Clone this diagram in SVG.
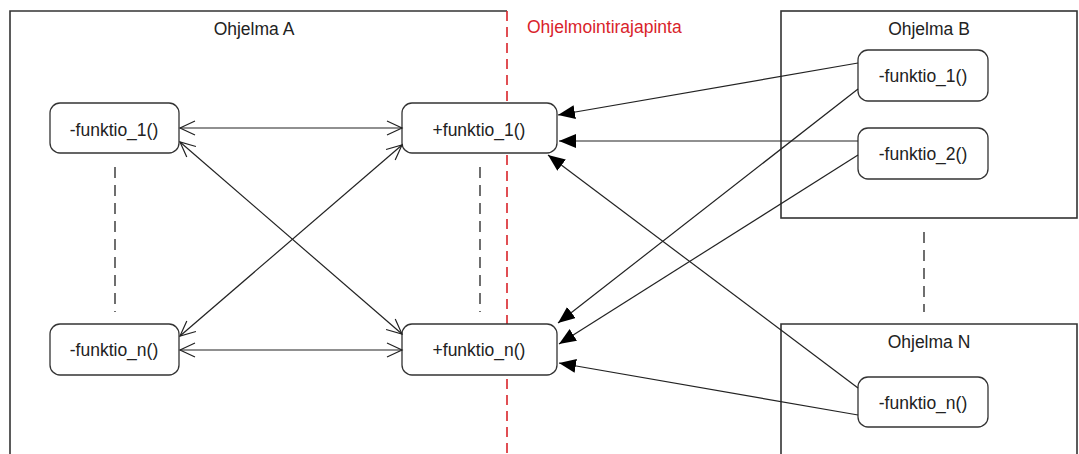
<svg xmlns="http://www.w3.org/2000/svg" width="1079" height="454" viewBox="0 0 1079 454">
<style>
.frame{fill:none;stroke:#333;stroke-width:1.6}
.node{fill:#fff;stroke:#333;stroke-width:1.3}
.t{font-family:"Liberation Sans",Arial,sans-serif;font-size:17.5px;fill:#222;text-anchor:middle}
.red{fill:#d9232a;text-anchor:start}
.con{stroke:#222;stroke-width:1.2;fill:none}
.dash{stroke:#222;stroke-width:1.3;stroke-dasharray:11,7;fill:none}
.api{stroke:#d9232a;stroke-width:1.6;stroke-dasharray:10,6;fill:none}
</style>
<defs>
<marker id="open" markerWidth="18" markerHeight="18" refX="16" refY="9" orient="auto-start-reverse" markerUnits="userSpaceOnUse">
<path d="M1,2 L16,9 L1,16" fill="none" stroke="#222" stroke-width="1.2"/>
</marker>
<marker id="fill" markerWidth="18" markerHeight="14" refX="17" refY="7" orient="auto" markerUnits="userSpaceOnUse">
<path d="M0,0 L17,7 L0,14 Z" fill="#000"/>
</marker>
</defs>
<rect width="1079" height="454" fill="#fff"/>
<g id="ohjelma-a">
<path class="frame" d="M10,455 L10,11 L507,11"/>
<text class="t" x="254" y="35">Ohjelma A</text>
</g>
<g id="api">
<line class="api" x1="507" y1="11" x2="507" y2="454"/>
<text class="t red" x="527" y="33">Ohjelmointirajapinta</text>
</g>
<g id="ohjelma-b">
<rect class="frame" x="781" y="11" width="296" height="207"/>
<text class="t" x="929" y="35">Ohjelma B</text>
</g>
<g id="ohjelma-n">
<path class="frame" d="M781,455 L781,324 L1077,324 L1077,455"/>
<text class="t" x="929" y="348">Ohjelma N</text>
</g>
<g id="a-funktio-1">
<rect class="node" x="50" y="103" width="129" height="50" rx="10"/>
<text class="t" x="114" y="136">-funktio_1()</text>
</g>
<g id="a-funktio-n">
<rect class="node" x="50" y="324" width="129" height="51" rx="10"/>
<text class="t" x="114" y="356">-funktio_n()</text>
</g>
<g id="api-funktio-1">
<rect class="node" x="402" y="103" width="155" height="50" rx="10"/>
<text class="t" x="479" y="136">+funktio_1()</text>
</g>
<g id="api-funktio-n">
<rect class="node" x="402" y="324" width="155" height="51" rx="10"/>
<text class="t" x="479" y="356">+funktio_n()</text>
</g>
<g id="b-funktio-1">
<rect class="node" x="858" y="50" width="130" height="51" rx="10"/>
<text class="t" x="923" y="82">-funktio_1()</text>
</g>
<g id="b-funktio-2">
<rect class="node" x="858" y="128" width="130" height="51" rx="10"/>
<text class="t" x="923" y="160">-funktio_2()</text>
</g>
<g id="n-funktio-n">
<rect class="node" x="858" y="377" width="130" height="50" rx="10"/>
<text class="t" x="923" y="409">-funktio_n()</text>
</g>
<g id="connectors">
<line class="dash" x1="115" y1="167" x2="115" y2="312"/>
<line class="dash" x1="480" y1="167" x2="480" y2="312"/>
<line class="dash" x1="924" y1="232" x2="924" y2="312"/>
<line class="con" x1="180" y1="128" x2="402" y2="128" marker-start="url(#open)" marker-end="url(#open)"/>
<line class="con" x1="180" y1="350" x2="402" y2="350" marker-start="url(#open)" marker-end="url(#open)"/>
<line class="con" x1="180" y1="142" x2="402" y2="334" marker-start="url(#open)" marker-end="url(#open)"/>
<line class="con" x1="402" y1="145" x2="180" y2="336" marker-start="url(#open)" marker-end="url(#open)"/>
<line class="con" x1="858" y1="63" x2="558" y2="115" marker-end="url(#fill)"/>
<line class="con" x1="858" y1="141" x2="559" y2="141" marker-end="url(#fill)"/>
<line class="con" x1="858" y1="89" x2="558" y2="323" marker-end="url(#fill)"/>
<line class="con" x1="858" y1="155" x2="559" y2="344" marker-end="url(#fill)"/>
<line class="con" x1="858" y1="388" x2="548" y2="155" marker-end="url(#fill)"/>
<line class="con" x1="858" y1="415" x2="559" y2="363" marker-end="url(#fill)"/>
</g>
</svg>
